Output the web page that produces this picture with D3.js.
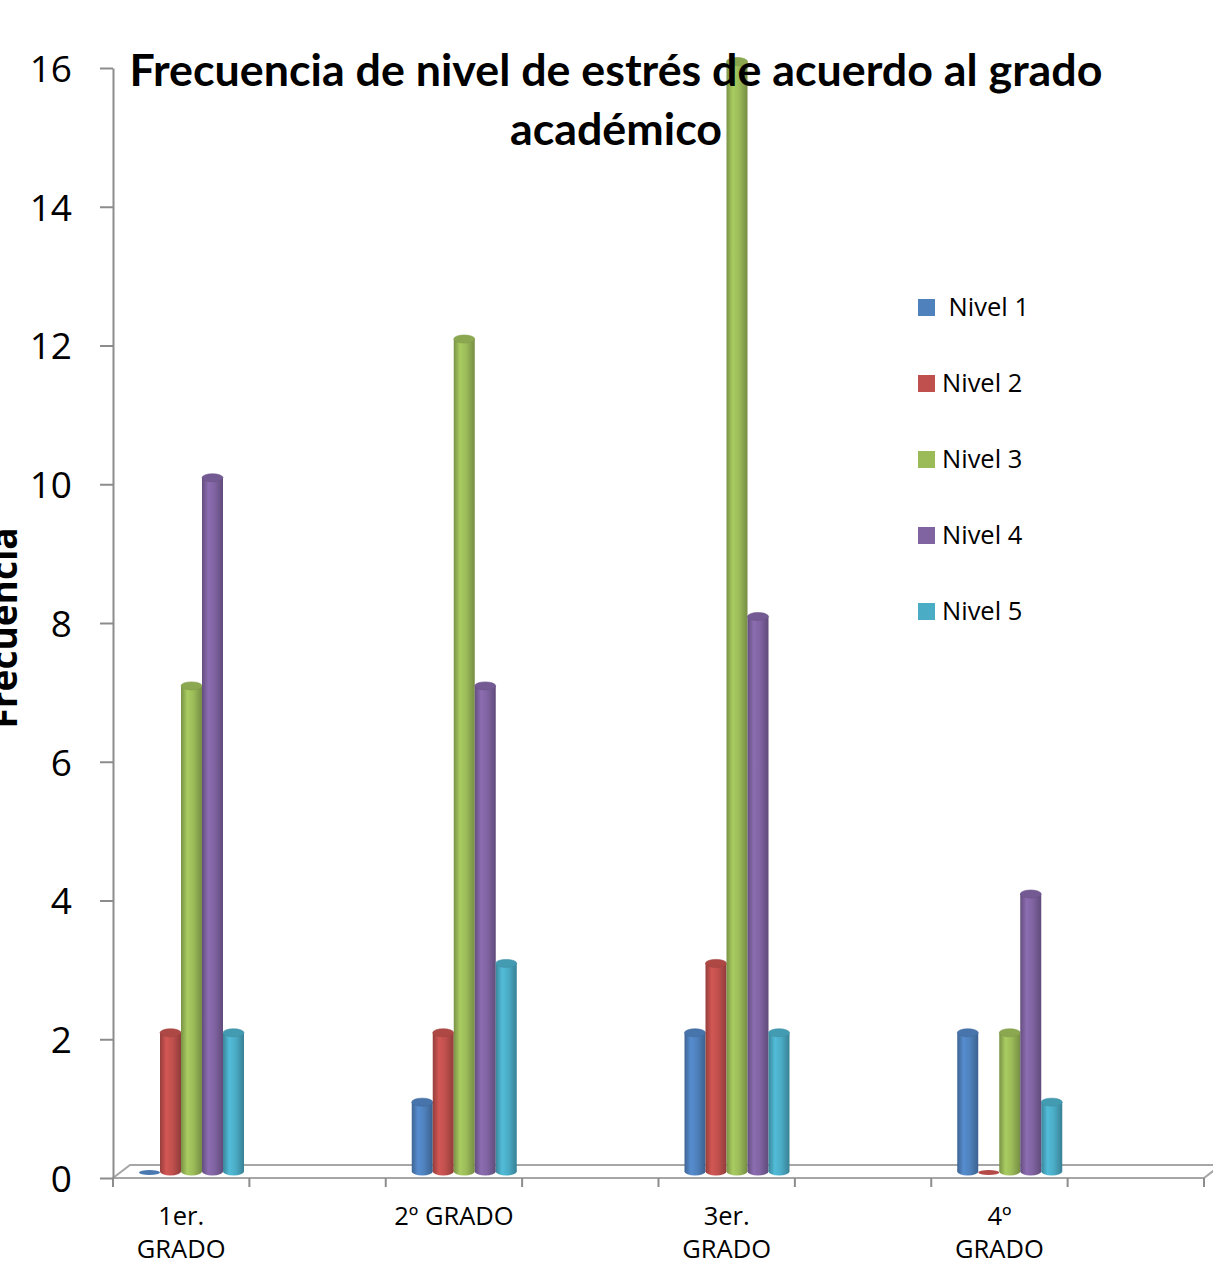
<!DOCTYPE html>
<html>
<head>
<meta charset="utf-8">
<script src="https://cdn.jsdelivr.net/npm/d3@7"></script>
<style>
  html, body { margin: 0; padding: 0; background: #fff; }
  svg { display: block; }
</style>
</head>
<body>
<svg id="chart" width="1213" height="1264"></svg>
<script>
// Chart data
const categories = ["1er. GRADO", "2º GRADO", "3er. GRADO", "4º GRADO"];
const categoryLines = [["1er.", "GRADO"], ["2º GRADO"], ["3er.", "GRADO"], ["4º", "GRADO"]];
const seriesNames = [" Nivel 1", "Nivel 2", "Nivel 3", "Nivel 4", "Nivel 5"];
const seriesColors = ["#4F81BD", "#C0504D", "#9BBB59", "#8064A2", "#4BACC6"];
const nivel1 = [0, 1, 2, 2];
const nivel2 = [2, 2, 3, 0];
const nivel3 = [7, 12, 16, 2];
const nivel4 = [10, 7, 8, 4];
const nivel5 = [2, 3, 2, 1];
const seriesValues = [nivel1, nivel2, nivel3, nivel4, nivel5];
const yTicks = [0, 2, 4, 6, 8, 10, 12, 14, 16];

const svg = d3.select("#chart");
const defs = svg.append("defs");

const plotLeft = 113, plotRight = 1204, plotTop = 68, plotBottom = 1178;
const depthX = 17, depthY = 13;

const y = d3.scaleLinear().domain([0, 16]).range([plotBottom, plotTop]);
const x = d3.scaleBand().domain(categories).range([plotLeft, plotRight]).padding(0);
const inner = d3.scaleBand().domain(seriesNames).range([26, 131]).padding(0);

const axisColor = "#8c8c8c";

// Floor of the 3D plot
svg.append("path")
  .attr("d", `M${plotLeft},${plotBottom} L${plotRight},${plotBottom} L${plotRight + depthX},${plotBottom - depthY} L${plotLeft + depthX},${plotBottom - depthY} Z`)
  .attr("fill", "none")
  .attr("stroke", "#a6a6a6")
  .attr("stroke-width", 2);

// Category tick marks (two per category)
const catTicks = [];
categories.forEach(c => { catTicks.push(x(c)); catTicks.push(x(c) + x.bandwidth() / 2); });
catTicks.push(plotRight);
svg.append("g").selectAll("line").data(catTicks).join("line")
  .attr("x1", d => d).attr("x2", d => d)
  .attr("y1", plotBottom).attr("y2", plotBottom + 9)
  .attr("stroke", axisColor).attr("stroke-width", 2);

// Y axis
const yAxis = svg.append("g")
  .attr("transform", `translate(${plotLeft},0)`)
  .call(d3.axisLeft(y).tickValues(yTicks).tickSize(13).tickPadding(28).tickSizeOuter(0));
yAxis.select(".domain").attr("stroke", axisColor).attr("stroke-width", 2);
yAxis.selectAll(".tick line").attr("stroke", axisColor).attr("stroke-width", 2);
yAxis.selectAll(".tick text")
  .attr("fill", "#000")
  .style("font-family", "'Open Sans', sans-serif")
  .style("font-size", "37px")
  .attr("dy", "0.36em");

// Gradients for cylinder shading
seriesColors.forEach((col, i) => {
  const c = d3.color(col);
  const g = defs.append("linearGradient").attr("id", "cyl" + i)
    .attr("x1", "0%").attr("x2", "100%").attr("y1", "0%").attr("y2", "0%");
  g.append("stop").attr("offset", "0%").attr("stop-color", c.darker(0.7));
  g.append("stop").attr("offset", "30%").attr("stop-color", c.brighter(0.25));
  g.append("stop").attr("offset", "60%").attr("stop-color", c);
  g.append("stop").attr("offset", "100%").attr("stop-color", c.darker(0.8));
});

// Cylinders: bars sit at mid-depth of the floor
const shiftY = -depthY / 2;
const ry = 4;
const bars = [];
categories.forEach((cat, ci) => {
  seriesNames.forEach((s, si) => {
    bars.push({ cat, ci, s, si, v: seriesValues[si][ci] });
  });
});

const barG = svg.append("g");
bars.forEach(b => {
  const w = inner.bandwidth();
  const bx = x(b.cat) + inner(b.s);
  const cx = bx + w / 2;
  const baseY = y(0) + shiftY;
  const topY = y(b.v) + shiftY;
  const g = barG.append("g");
  const c = d3.color(seriesColors[b.si]);
  if (b.v === 0) {
    g.append("ellipse")
      .attr("cx", cx).attr("cy", baseY + 1)
      .attr("rx", w / 2).attr("ry", ry - 1.5)
      .attr("fill", c.darker(0.2));
    return;
  }
  g.append("ellipse")
    .attr("cx", cx).attr("cy", baseY)
    .attr("rx", w / 2).attr("ry", ry)
    .attr("fill", `url(#cyl${b.si})`);
  g.append("rect")
    .attr("x", bx).attr("y", topY)
    .attr("width", w).attr("height", baseY - topY)
    .attr("fill", `url(#cyl${b.si})`);
  g.append("ellipse")
    .attr("cx", cx).attr("cy", topY)
    .attr("rx", w / 2).attr("ry", ry)
    .attr("fill", c.darker(0.3))
    .attr("stroke", c.darker(0.5)).attr("stroke-width", 0.6);
});

// Category labels
const labelG = svg.append("g")
  .style("font-family", "'Open Sans', sans-serif")
  .style("font-size", "25.5px")
  .attr("text-anchor", "middle")
  .attr("fill", "#000");
categories.forEach((cat, ci) => {
  const lx = x(cat) + x.bandwidth() / 4;
  categoryLines[ci].forEach((line, li) => {
    labelG.append("text")
      .attr("x", lx).attr("y", 1225 + li * 33)
      .text(line);
  });
});

// Legend
const legend = svg.append("g")
  .style("font-family", "'Open Sans', sans-serif")
  .style("font-size", "25.5px");
seriesNames.forEach((s, i) => {
  const cy = 307 + i * 76;
  legend.append("rect")
    .attr("x", 918).attr("y", cy - 8).attr("width", 17).attr("height", 17)
    .attr("fill", seriesColors[i]);
  legend.append("text")
    .attr("x", 942).attr("y", cy + 9)
    .attr("xml:space", "preserve")
    .style("white-space", "pre")
    .text(s);
});

// Title
const title = svg.append("g")
  .style("font-family", "Lato, 'Open Sans', sans-serif")
  .style("font-weight", "bold")
  .attr("text-anchor", "middle")
  .attr("fill", "#000");
const t1 = title.append("text").attr("x", 616).attr("y", 86)
  .text("Frecuencia de nivel de estrés de acuerdo al grado");
const t2 = title.append("text").attr("x", 616).attr("y", 145)
  .text("académico");
t1.style("font-size", "40px");
const w40 = t1.node().getComputedTextLength();
const titleSize = 40 * 973 / w40;
t1.style("font-size", titleSize + "px");
t2.style("font-size", titleSize + "px");

// Y axis title (partly outside the drawing area)
svg.append("text")
  .attr("transform", "translate(17,628) rotate(-90)")
  .attr("text-anchor", "middle")
  .style("font-family", "'Open Sans', sans-serif")
  .style("font-weight", "bold")
  .style("font-size", "37px")
  .attr("fill", "#000")
  .text("Frecuencia");
</script>
</body>
</html>
